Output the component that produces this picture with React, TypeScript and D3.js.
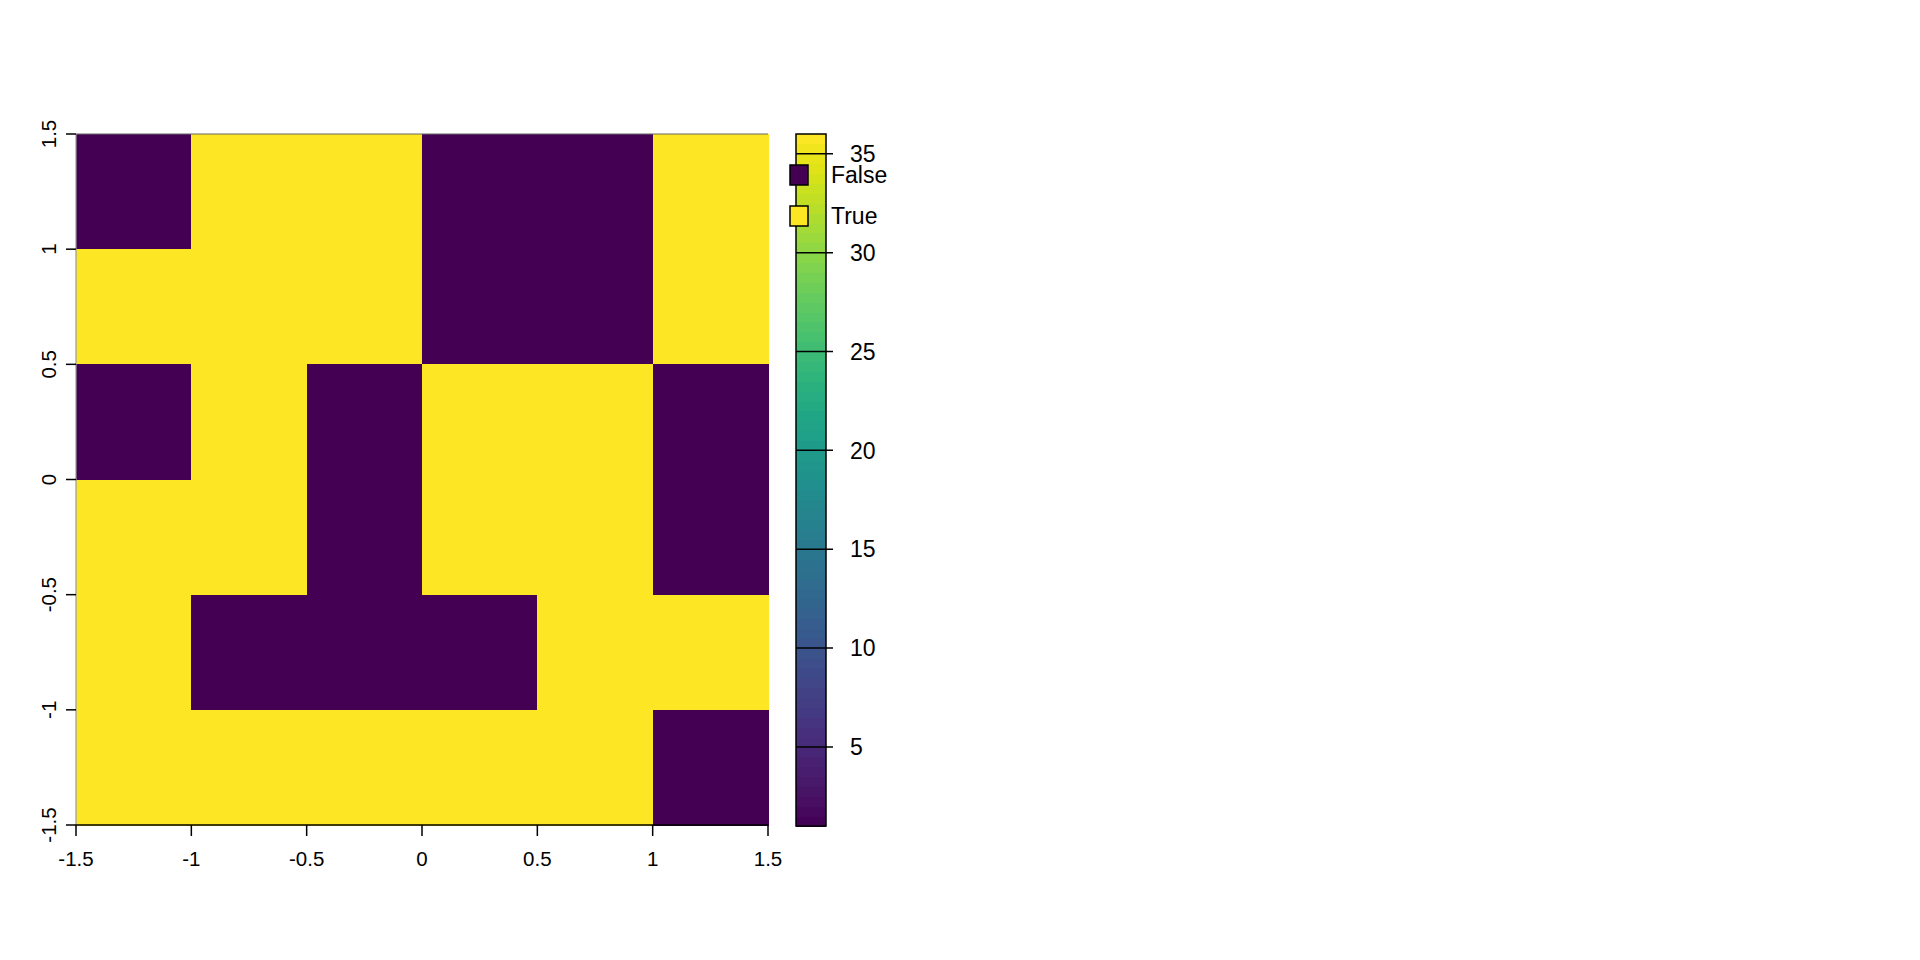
import React from "react";
import * as d3 from "d3";

const xBreaks = [-1.5, -1, -0.5, 0, 0.5, 1, 1.5];
const yBreaks = [-1.5, -1, -0.5, 0, 0.5, 1, 1.5];
const tickLabels = ["-1.5", "-1", "-0.5", "0", "0.5", "1", "1.5"];
// rows from top (y 1.5) to bottom (y -1.5); columns from x -1.5 to 1.5; 1 = True, 0 = False
const gridRows = [
  [0, 1, 1, 0, 0, 1],
  [1, 1, 1, 0, 0, 1],
  [0, 1, 0, 1, 1, 0],
  [1, 1, 0, 1, 1, 0],
  [1, 0, 0, 0, 1, 1],
  [1, 1, 1, 1, 1, 0],
];
const legendLabels = ["False", "True"];
const legendColors = ["#440154", "#FDE725"];
const colorbarDomain = [1, 36];
const colorbarTicks = [5, 10, 15, 20, 25, 30, 35];

export default function App() {
  const left = 76, right = 768, top = 134, bottom = 825;
  const x = d3.scaleLinear().domain([-1.5, 1.5]).range([left, right]);
  const y = d3.scaleLinear().domain([-1.5, 1.5]).range([bottom, top]);
  const cbX0 = 796, cbX1 = 826, cbTop = 134, cbBottom = 826;
  const cb = d3.scaleLinear().domain(colorbarDomain).range([cbBottom, cbTop]);
  const nSteps = 70;
  const steps = d3.range(nSteps).map((i) => {
    const v0 = colorbarDomain[0] + ((colorbarDomain[1] - colorbarDomain[0]) * i) / nSteps;
    const v1 = colorbarDomain[0] + ((colorbarDomain[1] - colorbarDomain[0]) * (i + 1)) / nSteps;
    return { v0, v1, t: (i + 0.5) / nSteps };
  });
  const font = "'Liberation Sans', Arial, Helvetica, sans-serif";
  return (
    <svg
      width={1920}
      height={960}
      style={{ position: "absolute", left: 0, top: 0, background: "#fff" }}
      fontFamily={font}
    >
      {gridRows.map((row, r) =>
        row.map((v, c) => {
          const x0 = xBreaks[c], x1 = xBreaks[c + 1];
          const yTop = yBreaks[yBreaks.length - 1 - r];
          const yBot = yBreaks[yBreaks.length - 2 - r];
          return (
            <rect
              key={`${r}-${c}`}
              x={x(x0)}
              y={y(yTop)}
              width={x(x1) - x(x0) + 0.5}
              height={y(yBot) - y(yTop) + 0.5}
              fill={legendColors[v]}
              shapeRendering="crispEdges"
            />
          );
        })
      )}
      {/* frame lines */}
      <line x1={left} x2={right} y1={top} y2={top} stroke="#666" strokeWidth={1.2} />
      <line x1={left} x2={left} y1={top} y2={bottom} stroke="#999" strokeWidth={1.2} />
      {/* x axis */}
      <line x1={x(-1.5)} x2={x(1.5)} y1={bottom} y2={bottom} stroke="#000" strokeWidth={1.5} />
      {xBreaks.map((v, i) => (
        <g key={`xt${i}`}>
          <line x1={x(v)} x2={x(v)} y1={bottom} y2={bottom + 11} stroke="#000" strokeWidth={1.5} />
          <text x={x(v)} y={866} textAnchor="middle" fontSize={20.5}>
            {tickLabels[i]}
          </text>
        </g>
      ))}
      {/* y axis */}
      {yBreaks.map((v, i) => (
        <g key={`yt${i}`}>
          <line x1={left - 10} x2={left} y1={y(v)} y2={y(v)} stroke="#000" strokeWidth={1.5} />
          <text
            transform={`translate(56,${y(v)}) rotate(-90)`}
            textAnchor="middle"
            fontSize={20.5}
          >
            {tickLabels[i]}
          </text>
        </g>
      ))}
      {/* colorbar */}
      {steps.map((s, i) => (
        <rect
          key={`cb${i}`}
          x={cbX0}
          y={cb(s.v1)}
          width={cbX1 - cbX0}
          height={cb(s.v0) - cb(s.v1) + 0.6}
          fill={d3.interpolateViridis(s.t)}
          shapeRendering="crispEdges"
        />
      ))}
      <rect x={cbX0} y={cbTop} width={cbX1 - cbX0} height={cbBottom - cbTop} fill="none" stroke="#000" strokeWidth={1.5} />
      {colorbarTicks.map((v) => (
        <g key={`ct${v}`}>
          <line x1={cbX0} x2={833} y1={cb(v)} y2={cb(v)} stroke="#000" strokeWidth={1.5} />
          <text x={850} y={cb(v)} dy="0.36em" fontSize={23}>
            {v}
          </text>
        </g>
      ))}
      {/* legend */}
      {legendLabels.map((lab, i) => {
        const cy = [175, 216][i];
        return (
          <g key={lab}>
            <rect x={790} y={cy - 10} width={18} height={20} fill={legendColors[i]} stroke="#000" strokeWidth={1.5} />
            <text x={831} y={cy} dy="0.36em" fontSize={23}>
              {lab}
            </text>
          </g>
        );
      })}
    </svg>
  );
}
